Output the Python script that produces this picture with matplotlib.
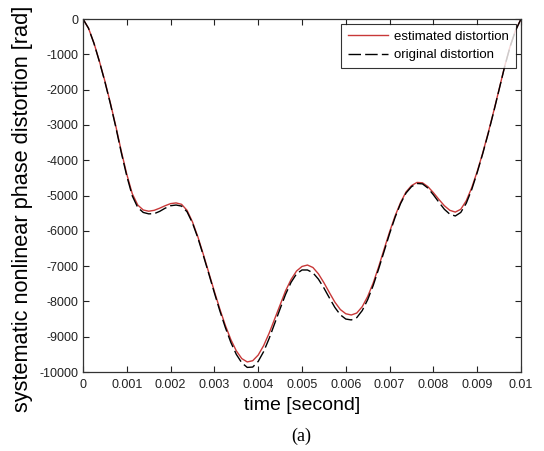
import matplotlib
matplotlib.use("Agg")
import matplotlib.pyplot as plt

plt.rcParams['font.family'] = ['Liberation Sans', 'DejaVu Sans']
plt.rcParams['axes.unicode_minus'] = False

# sample grid: 0 .. 0.01 s every 0.125 ms
t = [i * 0.000125 for i in range(81)]

# values [rad]
estimated = [0, -260, -680, -1200, -1760, -2380, -3040, -3750, -4400, -4950,
             -5270, -5410, -5445, -5420, -5360, -5290, -5230, -5210, -5250,
             -5420, -5750, -6180, -6680, -7200, -7720, -8220, -8680, -9080,
             -9400, -9620, -9715, -9680, -9520, -9250, -8900, -8500, -8100,
             -7700, -7380, -7140, -7010, -6970, -7040, -7220, -7470, -7750,
             -8020, -8230, -8350, -8385, -8330, -8150, -7860, -7480, -7020,
             -6520, -6030, -5580, -5200, -4900, -4720, -4630, -4640, -4750,
             -4920, -5110, -5290, -5420, -5470, -5390, -5150, -4780, -4320,
             -3800, -3230, -2620, -1990, -1350, -780, -320, 0]

original = [0, -260, -690, -1210, -1780, -2400, -3070, -3790, -4450, -5010,
            -5340, -5480, -5520, -5515, -5450, -5360, -5290, -5270, -5300,
            -5460, -5780, -6210, -6710, -7230, -7760, -8270, -8740, -9160,
            -9500, -9740, -9870, -9860, -9700, -9420, -9050, -8630, -8210,
            -7800, -7460, -7220, -7110, -7110, -7190, -7370, -7620, -7900,
            -8170, -8380, -8500, -8525, -8460, -8260, -7950, -7550, -7080,
            -6580, -6080, -5620, -5230, -4930, -4750, -4660, -4670, -4790,
            -4980, -5190, -5390, -5530, -5580, -5480, -5220, -4830, -4350,
            -3820, -3250, -2640, -2000, -1360, -790, -330, 0]

xticks = [i / 1000 for i in range(11)]
xtick_labels = ['0', '0.001', '0.002', '0.003', '0.004', '0.005', '0.006',
                '0.007', '0.008', '0.009', '0.01']
yticks = list(range(-10000, 1, 1000))

fig = plt.figure(figsize=(5.44, 4.51), dpi=100)
ax = fig.add_axes([83 / 544, 1 - 372 / 451, 438 / 544, 353 / 451])

ax.plot(t, estimated, color='#c83838', lw=1.0, label='estimated distortion')
ax.plot(t, original, color='black', lw=1.0, dashes=(9, 3),
        label='original distortion')

ax.set_xlim(0, 0.01)
ax.set_ylim(-10000, 0)
ax.set_xticks(xticks)
ax.set_xticklabels(xtick_labels)
ax.set_yticks(yticks)
ax.set_yticklabels([str(v) for v in yticks])
ax.tick_params(direction='in', top=True, right=True, length=4, width=0.8,
               labelsize=9, colors='#222222')
ax.tick_params(axis='x', pad=5)
ax.tick_params(axis='y', pad=3)
for s in ax.spines.values():
    s.set_color('#333333')
    s.set_linewidth(0.9)

ax.set_xlabel('time [second]', fontsize=14, labelpad=4)
ax.set_ylabel('systematic nonlinear phase distortion [rad]', fontsize=15.7)
# label sits a bit below the axes centre in the original
ax.yaxis.set_label_coords((33 - 83) / 438, (372 - 209) / 353)

leg = ax.legend(loc='upper right', fontsize=9.5, frameon=True, fancybox=False,
                borderaxespad=0.4, handlelength=3.0, borderpad=0.5,
                labelspacing=0.45, handletextpad=0.5)
leg.get_frame().set_edgecolor('black')
leg.get_frame().set_linewidth(0.8)

fig.text(0.553, 1 - 436 / 451, '(a)', family='Liberation Serif', fontsize=13,
         ha='center', va='center')

fig.savefig('out.png', dpi=100)
